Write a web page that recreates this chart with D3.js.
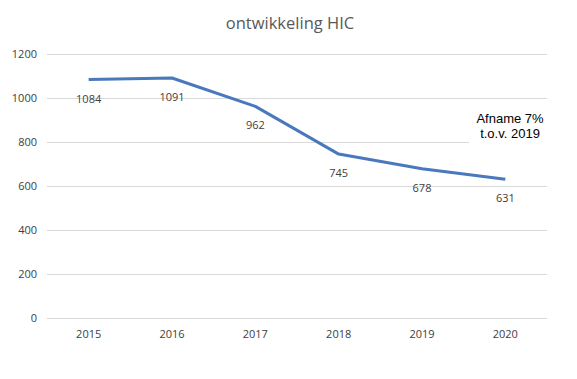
<!DOCTYPE html>
<html>
<head>
<meta charset="utf-8">
<script src="https://cdn.jsdelivr.net/npm/d3@7"></script>
<style>
    body { margin: 0; background: #fff; }
    #chart-area { width: 577px; height: 379px; }
</style>
</head>
<body>
<div id="chart-area"></div>
<script>
    'use strict';

    const years = ['2015', '2016', '2017', '2018', '2019', '2020'];
    const hicValues = [1084, 1091, 962, 745, 678, 631];
    const yTicks = [0, 200, 400, 600, 800, 1000, 1200];
    const titleText = 'ontwikkeling HIC';
    const noteLines = ['Afname 7%', 't.o.v. 2019'];

    const WIDTH = 577;
    const HEIGHT = 379;
    const MARGIN = {top: 54, right: 30, bottom: 61, left: 47};
    const plotW = WIDTH - MARGIN.left - MARGIN.right;
    const plotH = HEIGHT - MARGIN.top - MARGIN.bottom;
    const font = '"Open Sans", "Noto Sans", sans-serif';

    const svg = d3.select('#chart-area').append('svg')
        .attr('width', WIDTH)
        .attr('height', HEIGHT);

    svg.append('text')
        .attr('x', 290)
        .attr('y', 29)
        .attr('text-anchor', 'middle')
        .attr('font-family', font)
        .attr('font-size', '16.5px')
        .attr('fill', '#595959')
        .text(titleText);

    const graph = svg.append('g')
        .attr('transform', `translate(${MARGIN.left}, ${MARGIN.top})`);

    const xScale = d3.scaleBand()
        .domain(years)
        .range([0, plotW]);

    const yScale = d3.scaleLinear()
        .domain([0, 1200])
        .range([plotH, 0]);

    // gridlines
    graph.append('g')
        .selectAll('line')
        .data(yTicks)
        .join('line')
        .attr('x1', 0)
        .attr('x2', plotW)
        .attr('y1', d => Math.round(yScale(d)) + 0.5)
        .attr('y2', d => Math.round(yScale(d)) + 0.5)
        .attr('stroke', '#d9d9d9')
        .attr('stroke-width', 1);

    const yAxis = graph.append('g')
        .call(d3.axisLeft(yScale).tickValues(yTicks).tickFormat(d3.format('d')).tickSize(0).tickPadding(10));
    yAxis.select('.domain').remove();
    yAxis.selectAll('text')
        .attr('font-family', font)
        .attr('font-size', '11px')
        .attr('fill', '#404040');

    const xAxis = graph.append('g')
        .attr('transform', `translate(0, ${plotH})`)
        .call(d3.axisBottom(xScale).tickSize(0).tickPadding(12));
    xAxis.select('.domain').remove();
    xAxis.selectAll('text')
        .attr('font-family', font)
        .attr('font-size', '11px')
        .attr('fill', '#404040');

    const cx = d => xScale(d) + xScale.bandwidth() / 2;

    const line = d3.line()
        .x((d, i) => cx(years[i]))
        .y(d => yScale(d));

    graph.append('path')
        .datum(hicValues)
        .attr('d', line)
        .attr('fill', 'none')
        .attr('stroke', '#4a78bd')
        .attr('stroke-width', 3)
        .attr('stroke-linejoin', 'round');

    graph.append('g')
        .selectAll('text')
        .data(hicValues)
        .join('text')
        .attr('x', (d, i) => cx(years[i]))
        .attr('y', d => yScale(d) + 23)
        .attr('text-anchor', 'middle')
        .attr('font-family', font)
        .attr('font-size', '11px')
        .attr('fill', '#404040')
        .text(d => d);

    // annotation box covering part of the grid
    const note = svg.append('g');
    note.append('rect')
        .attr('x', 469)
        .attr('y', 103)
        .attr('width', 82)
        .attr('height', 45)
        .attr('fill', '#fff');
    note.selectAll('text')
        .data(noteLines)
        .join('text')
        .attr('x', 510)
        .attr('y', (d, i) => 123 + i * 15)
        .attr('text-anchor', 'middle')
        .attr('font-family', '"Liberation Sans", Arial, sans-serif')
        .attr('font-size', '13px')
        .attr('fill', '#000')
        .text(d => d);
</script>
</body>
</html>
